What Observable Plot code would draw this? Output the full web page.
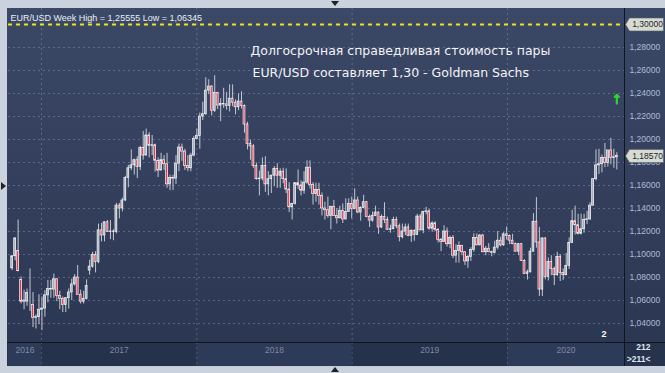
<!DOCTYPE html>
<html><head><meta charset="utf-8">
<script src="https://cdn.jsdelivr.net/npm/d3@7"></script>
<script src="https://cdn.jsdelivr.net/npm/@observablehq/plot@0.6"></script>
<style>
html,body{margin:0;padding:0;background:#c9d2dd;}
#wrap{position:relative;width:665px;height:373px;overflow:hidden;background:#c9d2dd;}
#panel{position:absolute;left:7px;top:8px;width:658px;height:358px;background:linear-gradient(#3b4866,#2b3651);}
#axisband{position:absolute;left:7px;top:342px;width:658px;height:24px;background:#27324c;}
#chart{position:absolute;left:0;top:0;}
.hl{position:absolute;background:#10161f;}
.tri{position:absolute;width:0;height:0;}
</style></head>
<body><div id="wrap">
<div id="panel"></div><div id="axisband"></div>
<div id="chart"></div>
<div class="hl" style="left:7px;top:342px;width:658px;height:1px"></div>
<div class="hl" style="left:624px;top:8px;width:1px;height:358px"></div>
<div class="tri" style="left:1px;top:182px;border-top:4px solid transparent;border-bottom:4px solid transparent;border-left:5px solid #222;"></div>
<div class="tri" style="left:331px;top:1px;border-left:4px solid transparent;border-right:4px solid transparent;border-top:5px solid #222;"></div>
<div class="tri" style="left:331px;top:367px;border-left:4px solid transparent;border-right:4px solid transparent;border-bottom:5px solid #222;"></div>
</div>
<script>
// ---- data (weekly EUR/USD candles, weeks starting Monday 2016-10-24 .. 2020-09-14) ----
const years = ["2016","2017","2018","2019","2020"];
const yTicks = [1.04,1.06,1.08,1.10,1.12,1.14,1.16,1.18,1.20,1.22,1.24,1.26,1.28];
const fairValue = 1.30;
const lastPrice = 1.1857;
const headerText = "EUR/USD Week High = 1,25555 Low = 1,06345";
const titleLine1 = "Долгосрочная справедливая стоимость пары";
const titleLine2 = "EUR/USD составляет 1,30 - Goldman Sachs";
const barCountTop = "212";
const barCountBottom = ">211<";

const open = [
1.0880,1.0985,1.1030,1.0780,1.0600,1.0590,1.0560,1.0560,1.0450,1.0455,
1.0520,1.0530,1.0645,1.0700,1.0695,1.0785,1.0640,1.0615,1.0560,1.0620,
1.0670,1.0740,1.0800,1.0650,1.0590,1.0615,1.0860,1.0895,1.0995,1.0935,
1.1210,1.1165,1.1280,1.1195,1.1200,1.1195,1.1425,1.1400,1.1470,1.1665,
1.1750,1.1775,1.1820,1.1760,1.1925,1.1860,1.2035,1.1945,1.1950,1.1815,
1.1730,1.1820,1.1785,1.1610,1.1665,1.1660,1.1790,1.1930,1.1895,1.1770,
1.1750,1.1860,1.2005,1.2030,1.2200,1.2220,1.2425,1.2460,1.2250,1.2405,
1.2295,1.2310,1.2305,1.2290,1.2355,1.2320,1.2280,1.2330,1.2290,1.2130,
1.1960,1.1940,1.1770,1.1655,1.1660,1.1770,1.1610,1.1655,1.1685,1.1745,
1.1685,1.1720,1.1655,1.1565,1.1410,1.1440,1.1620,1.1600,1.1555,1.1625,
1.1755,1.1605,1.1525,1.1560,1.1510,1.1400,1.1385,1.1335,1.1415,1.1335,
1.1315,1.1380,1.1305,1.1370,1.1440,1.1395,1.1470,1.1365,1.1405,1.1455,
1.1325,1.1295,1.1335,1.1365,1.1235,1.1325,1.1300,1.1215,1.1220,1.1300,
1.1245,1.1150,1.1200,1.1235,1.1160,1.1205,1.1170,1.1330,1.1210,1.1370,
1.1375,1.1225,1.1270,1.1215,1.1125,1.1110,1.1200,1.1090,1.1145,1.0990,
1.1030,1.1075,1.1020,1.0940,1.0980,1.1040,1.1145,1.1080,1.1165,1.1020,
1.1050,1.1020,1.1015,1.1060,1.1120,1.1080,1.1175,1.1160,1.1120,1.1090,
1.1025,1.1090,1.0945,1.0830,1.0845,1.1025,1.1285,1.1105,1.0695,1.1140,
1.0805,1.0935,1.0875,1.0820,1.0980,1.0840,1.0820,1.0900,1.1100,1.1290,
1.1255,1.1180,1.1220,1.1300,1.1305,1.1425,1.1655,1.1775,1.1785,1.1840,
1.1795,1.1905,1.1840,1.1845];
const high = [
1.0990,1.1145,1.1300,1.0805,1.0690,1.0700,1.0875,1.0670,1.0475,1.0650,
1.0630,1.0685,1.0775,1.0775,1.0830,1.0790,1.0680,1.0630,1.0625,1.0700,
1.0785,1.0825,1.0905,1.0690,1.0680,1.0780,1.0950,1.1020,1.1025,1.1265,
1.1270,1.1285,1.1295,1.1295,1.1215,1.1445,1.1445,1.1490,1.1680,1.1775,
1.1910,1.1830,1.1850,1.1940,1.2070,1.2090,1.2060,1.2035,1.1960,1.1840,
1.1880,1.1860,1.1880,1.1690,1.1690,1.1860,1.1960,1.1960,1.1915,1.1860,
1.1880,1.2025,1.2090,1.2230,1.2325,1.2537,1.2520,1.2470,1.2555,1.2410,
1.2355,1.2445,1.2410,1.2475,1.2475,1.2345,1.2395,1.2415,1.2300,1.2150,
1.1995,1.1955,1.1795,1.1725,1.1840,1.1850,1.1720,1.1690,1.1765,1.1790,
1.1745,1.1750,1.1745,1.1625,1.1445,1.1625,1.1735,1.1640,1.1720,1.1815,
1.1815,1.1625,1.1620,1.1620,1.1535,1.1455,1.1500,1.1420,1.1470,1.1400,
1.1420,1.1440,1.1485,1.1485,1.1500,1.1570,1.1500,1.1415,1.1515,1.1460,
1.1345,1.1370,1.1420,1.1370,1.1345,1.1450,1.1325,1.1255,1.1325,1.1325,
1.1265,1.1265,1.1265,1.1265,1.1215,1.1215,1.1350,1.1350,1.1375,1.1410,
1.1390,1.1285,1.1285,1.1225,1.1140,1.1250,1.1230,1.1160,1.1165,1.1085,
1.1110,1.1080,1.1025,1.0990,1.1060,1.1180,1.1180,1.1175,1.1175,1.1070,
1.1095,1.1030,1.1115,1.1200,1.1150,1.1190,1.1240,1.1170,1.1175,1.1100,
1.1095,1.1095,1.0955,1.0865,1.1055,1.1355,1.1495,1.1235,1.1145,1.1145,
1.0970,1.0990,1.0890,1.1020,1.1000,1.0875,1.1010,1.1145,1.1385,1.1420,
1.1350,1.1350,1.1350,1.1375,1.1450,1.1660,1.1910,1.1915,1.1865,1.1965,
1.1900,1.2010,1.1915,1.1885];
const low = [
1.0860,1.0945,1.0850,1.0570,1.0520,1.0550,1.0505,1.0365,1.0352,1.0390,
1.0340,1.0455,1.0580,1.0620,1.0620,1.0590,1.0520,1.0495,1.0495,1.0525,
1.0600,1.0725,1.0650,1.0570,1.0570,1.0605,1.0820,1.0880,1.0840,1.0920,
1.1110,1.1110,1.1195,1.1130,1.1120,1.1180,1.1310,1.1370,1.1460,1.1580,
1.1730,1.1690,1.1660,1.1730,1.1820,1.1860,1.1840,1.1860,1.1715,1.1670,
1.1730,1.1730,1.1575,1.1555,1.1555,1.1610,1.1720,1.1810,1.1730,1.1720,
1.1720,1.1850,1.2000,1.1915,1.2165,1.2210,1.2390,1.2205,1.2235,1.2260,
1.2155,1.2270,1.2255,1.2240,1.2285,1.2215,1.2250,1.2265,1.2055,1.1910,
1.1820,1.1750,1.1645,1.1510,1.1640,1.1540,1.1510,1.1530,1.1590,1.1575,
1.1575,1.1615,1.1530,1.1365,1.1300,1.1430,1.1565,1.1510,1.1525,1.1610,
1.1570,1.1430,1.1455,1.1430,1.1335,1.1300,1.1315,1.1215,1.1330,1.1265,
1.1310,1.1270,1.1300,1.1365,1.1310,1.1390,1.1355,1.1290,1.1400,1.1320,
1.1235,1.1280,1.1330,1.1175,1.1225,1.1270,1.1210,1.1185,1.1215,1.1225,
1.1110,1.1135,1.1165,1.1155,1.1105,1.1115,1.1165,1.1205,1.1180,1.1345,
1.1210,1.1195,1.1200,1.1100,1.1025,1.1105,1.1065,1.1050,1.0965,1.0925,
1.0925,1.0990,1.0905,1.0880,1.0940,1.1020,1.1075,1.1075,1.1015,1.0990,
1.1015,1.0980,1.1005,1.1040,1.1065,1.1070,1.1125,1.1085,1.1085,1.1020,
1.0990,1.0940,1.0825,1.0778,1.0840,1.1020,1.1055,1.0636,1.0635,1.0780,
1.0770,1.0815,1.0730,1.0810,1.0765,1.0775,1.0815,1.0870,1.1095,1.1170,
1.1170,1.1170,1.1185,1.1260,1.1295,1.1420,1.1640,1.1695,1.1710,1.1755,
1.1760,1.1780,1.1750,1.1735];
const close = [
1.0985,1.1140,1.0855,1.0590,1.0590,1.0665,1.0560,1.0450,1.0455,1.0520,
1.0530,1.0645,1.0700,1.0695,1.0785,1.0640,1.0615,1.0560,1.0620,1.0670,
1.0740,1.0800,1.0650,1.0590,1.0615,1.0725,1.0895,1.0995,1.0935,1.1210,
1.1165,1.1280,1.1195,1.1200,1.1195,1.1425,1.1400,1.1470,1.1665,1.1750,
1.1775,1.1820,1.1760,1.1925,1.1860,1.2035,1.1945,1.1950,1.1815,1.1730,
1.1820,1.1785,1.1610,1.1665,1.1660,1.1790,1.1930,1.1895,1.1770,1.1750,
1.1860,1.2005,1.2030,1.2200,1.2220,1.2425,1.2460,1.2250,1.2405,1.2295,
1.2310,1.2305,1.2290,1.2355,1.2320,1.2280,1.2330,1.2290,1.2130,1.1960,
1.1940,1.1770,1.1655,1.1660,1.1770,1.1610,1.1655,1.1685,1.1745,1.1685,
1.1720,1.1655,1.1565,1.1410,1.1440,1.1620,1.1600,1.1555,1.1625,1.1755,
1.1605,1.1525,1.1560,1.1510,1.1400,1.1385,1.1335,1.1415,1.1335,1.1315,
1.1380,1.1305,1.1370,1.1440,1.1395,1.1470,1.1365,1.1405,1.1455,1.1325,
1.1295,1.1335,1.1365,1.1235,1.1325,1.1300,1.1215,1.1220,1.1300,1.1245,
1.1150,1.1200,1.1235,1.1160,1.1205,1.1170,1.1330,1.1210,1.1370,1.1375,
1.1225,1.1270,1.1215,1.1125,1.1110,1.1200,1.1090,1.1145,1.0990,1.1030,
1.1075,1.1020,1.0940,1.0980,1.1040,1.1145,1.1080,1.1165,1.1020,1.1050,
1.1020,1.1015,1.1060,1.1120,1.1080,1.1175,1.1160,1.1120,1.1090,1.1025,
1.1090,1.0945,1.0830,1.0845,1.1025,1.1285,1.1105,1.0695,1.1140,1.0805,
1.0935,1.0875,1.0820,1.0980,1.0840,1.0820,1.0900,1.1100,1.1290,1.1255,
1.1180,1.1220,1.1300,1.1305,1.1425,1.1655,1.1775,1.1785,1.1840,1.1795,
1.1905,1.1840,1.1845,1.1857];

// ---- build ----
const dates = d3.utcMonday.range(new Date(Date.UTC(2016,9,24)), new Date(Date.UTC(2020,8,15)));
const n = Math.min(dates.length, open.length, high.length, low.length, close.length);
const bars = d3.range(n).map(i => ({date: dates[i], open: open[i], high: high[i], low: low[i], close: close[i]}));
const DAY = 864e5;

const xDomain = [new Date(Date.UTC(2016,9,15,10)), new Date(Date.UTC(2020,9,2))];
const yDomain = [1.0235, 1.3139];
const yAxisBottom = 1.0026;   // bottom edge of the time band (below the frame)
const yYearLabel = 1.0170;    // centre line of the year labels in the time band

const yearStarts = years.map(y => new Date(Date.UTC(+y,0,1)));
const yearBands = years.map((y,i) => {
  const s = Math.max(Date.UTC(+y,0,1), +xDomain[0]);
  const e = Math.min(Date.UTC(+y+1,0,1), +xDomain[1]);
  return {year: y, x1: new Date(s), x2: new Date(e), mid: new Date((s+e)/2), i};
});
const fmt = v => v.toFixed(5).replace(".", ",");
const last = bars[bars.length-1];

// pointed price-tag shape for the right axis
const tagSymbol = {draw(ctx) {
  ctx.moveTo(-21, 0); ctx.lineTo(-17, -6.5); ctx.lineTo(17, -6.5);
  ctx.lineTo(17, 6.5); ctx.lineTo(-17, 6.5); ctx.closePath();
}};

const chart = Plot.plot({
  width: 665, height: 373,
  marginLeft: 8, marginRight: 41, marginTop: 8, marginBottom: 31,
  style: {background: "transparent", fontFamily: "Liberation Sans, Arial, sans-serif", fontSize: "8.5px", color: "#aebcd5", overflow: "visible"},
  x: {type: "utc", domain: xDomain, axis: null},
  y: {domain: yDomain, axis: "right", ticks: yTicks, tickFormat: fmt, tickSize: 0, tickPadding: 5, label: null},
  marks: [
    Plot.rect(yearBands, {x1: "x1", x2: "x2", y1: yDomain[0], y2: yAxisBottom, fill: d => d.i % 2 ? "#26314b" : "#2d3a58"}),
    Plot.text(yearBands, {x: "mid", y: yYearLabel, text: "year", fill: "#7d89a3", fontSize: 8.5}),
    Plot.ruleY(yTicks, {stroke: "#8d9bb8", strokeOpacity: 0.45, strokeDasharray: "2,3"}),
    Plot.ruleX(yearStarts.slice(1), {stroke: "#8d9bb8", strokeOpacity: 0.45, strokeDasharray: "2,3"}),
    Plot.ruleX(yearStarts.slice(1), {y1: yDomain[0], y2: yAxisBottom, stroke: "#8d9bb8", strokeOpacity: 0.35, strokeDasharray: "2,3"}),
    Plot.ruleY([fairValue], {stroke: "#ece51a", strokeWidth: 2, strokeDasharray: "4,4"}),
    Plot.ruleX(bars, {x: "date", y1: "low", y2: "high", stroke: "#c3c8d1", strokeWidth: 1}),
    Plot.rect(bars, {
      x1: d => new Date(+d.date - 2.2*DAY), x2: d => new Date(+d.date + 2.2*DAY),
      y1: "open", y2: "close",
      fill: d => d.close < d.open ? "#e8364e" : "#a9aeb8",
      stroke: "#f4f6fa", strokeWidth: 0.7
    }),
    Plot.text([headerText], {frameAnchor: "top-left", dx: 2, dy: 6, text: d => d, textAnchor: "start", fill: "#e9eef7", fontSize: 9}),
    Plot.text([titleLine1], {frameAnchor: "top-left", dx: 242, dy: 38, text: d => d, textAnchor: "start", fill: "#f2f4f8", fontSize: 12.5, fontFamily: "DejaVu Sans, sans-serif"}),
    Plot.text([titleLine2], {frameAnchor: "top-left", dx: 244, dy: 60, text: d => d, textAnchor: "start", fill: "#f2f4f8", fontSize: 12.5, fontFamily: "DejaVu Sans, sans-serif"}),
    Plot.arrow([last], {x1: "date", x2: "date", y1: 1.2312, y2: 1.2388, stroke: "#2fd42f", strokeWidth: 2.2, headLength: 6, headAngle: 90}),
    Plot.text(["2"], {frameAnchor: "bottom-right", dx: -18, dy: -6, text: d => d, fill: "#ffffff", fontSize: 9, fontWeight: "bold"}),
    Plot.text([barCountTop], {frameAnchor: "bottom-right", dx: 26, dy: 7, text: d => d, fill: "#dfe6f2", fontSize: 8.5, fontWeight: "bold"}),
    Plot.text([barCountBottom], {frameAnchor: "bottom-right", dx: 26, dy: 19, text: d => d, fill: "#dfe6f2", fontSize: 8.5, fontWeight: "bold"}),
    Plot.dot([fairValue, lastPrice], {y: d => d, frameAnchor: "right", dx: 22, symbol: tagSymbol, r: 5, fill: "#d8dbd0", stroke: "#596070", strokeWidth: 0.6}),
    Plot.text([fairValue, lastPrice], {y: d => d, frameAnchor: "right", dx: 23, text: fmt, textAnchor: "middle", fill: "#1d2432", fontSize: 8.5})
  ]
});
document.getElementById("chart").append(chart);
</script>
</body></html>
